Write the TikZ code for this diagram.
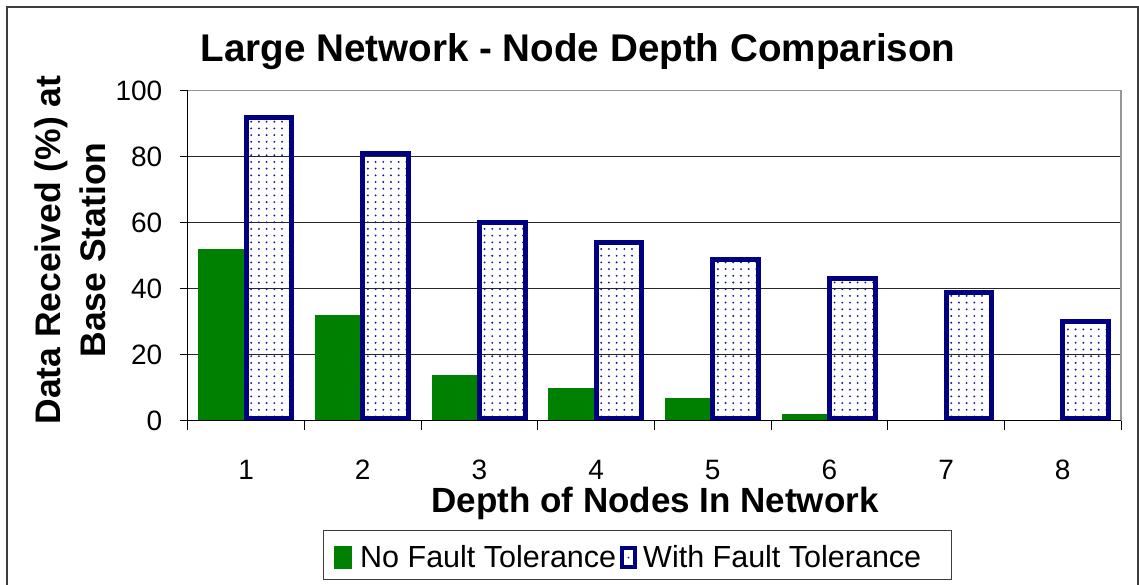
\documentclass[tikz,border=0pt]{standalone}
\usepackage{fontspec}
\setmainfont{Liberation Sans}
\definecolor{bargreen}{RGB}{0,128,0}
\definecolor{barnavy}{RGB}{0,0,128}
\definecolor{dotblue}{RGB}{20,20,160}
\definecolor{framegray}{RGB}{60,60,60}
\definecolor{plotgray}{RGB}{150,150,150}
\begin{document}
\begin{tikzpicture}[x=1pt,y=-1pt,
  ticklab/.style={font=\fontsize{28}{32}\selectfont, inner sep=0pt},
  gridline/.style={draw=black!85, line width=0.9},
  greenbar/.style={fill=bargreen},
  bluebar/.style={draw=barnavy, line width=5},
  legtext/.style={font=\fontsize{30.5}{34}\selectfont, inner sep=0pt, anchor=west}]
\useasboundingbox (0,0) rectangle (1139,584);
\fill[white] (0,0) rectangle (1139,584);
% outer frame
\draw[framegray, line width=2] (6.5,590) -- (6.5,7) -- (1137.5,7) -- (1137.5,590);
% title
\node (title) at (578,52) {\bfseries\fontsize{38.6}{40}\selectfont Large Network - Node Depth Comparison};
% gridlines
\foreach \v in {20,40,60,80} {
  \draw[gridline] (187.7,420.7-\v*3.3) -- (1121,420.7-\v*3.3);
}
\draw[plotgray, line width=1.2] (187.7,90.7) -- (1121,90.7) -- (1121,420.7);
% bars
\foreach \i/\g/\b in {1/52/92,2/32/81,3/14/60,4/10/54,5/7/49,6/2/43,7/0/39,8/0/30} {
  \pgfmathsetmacro\xs{187.7+(\i-1)*116.67}
  \ifnum\g>0
    \fill[greenbar] (\xs+10.5,420.7) rectangle (\xs+56,420.7-\g*3.3);
  \fi
  \begin{scope}
    \clip (\xs+58.5,420.7) rectangle (\xs+104,420.7-\b*3.3);
    \foreach \c in {0,...,5} {
      \foreach \r in {0,...,46} {
        \fill[dotblue] (\xs+63.5+\c*7.7,416.5-\r*6.7) circle (1.05);
      }
    }
  \end{scope}
  \draw[bluebar] (\xs+58.5,418.2) rectangle (\xs+104,420.7-\b*3.3);
}
% axes
\draw[black, line width=1.2] (187.7,90.7) -- (187.7,420.7) -- (1121,420.7);
\foreach \v in {0,20,40,60,80,100} {
  \draw[black, line width=1] (179.5,420.7-\v*3.3) -- (187.7,420.7-\v*3.3);
  \node[ticklab, anchor=east] (yt\v) at (162.5,420.7-\v*3.3) {\v};
}
\foreach \k in {0,...,8} {
  \draw[black, line width=1] (187.7+\k*116.67,420.7) -- (187.7+\k*116.67,430);
}
\foreach \k in {1,...,8} {
  \node[ticklab] (xt\k) at (187.7+\k*116.67-58.33,470) {\k};
}
% axis titles
\node (xtitle) at (655,503) {\bfseries\fontsize{35}{38}\selectfont Depth of Nodes In Network};
\node[rotate=90, align=center, font=\bfseries\fontsize{35.5}{45}\selectfont] (ytitle) at (70,250) {Data Received (\%) at\\Base Station};
% legend
\draw[framegray, line width=1] (323,530) rectangle (951,579);
\fill[bargreen] (334,546) rectangle (352,569);
\node[legtext] (leg1) at (360,557) {No Fault Tolerance};
\draw[barnavy, line width=4] (622,548) rectangle (635,567);
\fill[dotblue] (628.5,557.5) circle (1);
\node[legtext] (leg2) at (643,557) {With Fault Tolerance};
\end{tikzpicture}
\end{document}
